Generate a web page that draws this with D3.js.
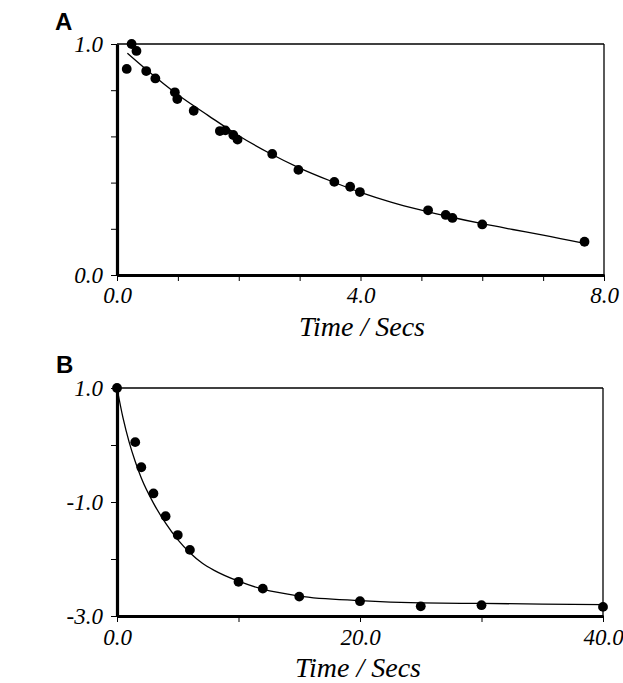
<!DOCTYPE html>
<html>
<head>
<meta charset="utf-8">
<script src="https://cdn.jsdelivr.net/npm/d3@7"></script>
<style>
  html, body { margin: 0; padding: 0; background: #fff; }
  svg { display: block; }
  .serif { font-family: "Liberation Serif", "Times New Roman", "DejaVu Serif", serif; font-style: italic; }
  .sans { font-family: "Liberation Sans", Arial, sans-serif; font-weight: bold; }
</style>
</head>
<body>
<svg id="chart" width="623" height="683"></svg>
<script>
// ---------- Panel A data ----------
const aPointsX = [0.16, 0.24, 0.32, 0.48, 0.63, 0.95, 0.99, 1.26, 1.69, 1.78, 1.91, 1.98, 2.55, 2.98, 3.57, 3.83, 3.99, 5.11, 5.40, 5.51, 6.00, 7.68];
const aPointsY = [0.892, 1.00, 0.97, 0.883, 0.851, 0.791, 0.762, 0.711, 0.623, 0.626, 0.606, 0.586, 0.524, 0.455, 0.403, 0.382, 0.359, 0.280, 0.260, 0.247, 0.219, 0.144];
const aCurveX = [0.17, 0.5, 1.0, 1.5, 2.0, 2.5, 3.0, 3.5, 4.0, 4.5, 5.0, 5.5, 6.0, 6.5, 7.0, 7.68];
const aCurveY = [0.96, 0.885, 0.78, 0.69, 0.603, 0.528, 0.463, 0.408, 0.358, 0.316, 0.281, 0.250, 0.222, 0.197, 0.173, 0.137];
const aXTicks = [0, 1, 2, 3, 4, 5, 6, 7, 8];
const aXLabelValues = [0, 4, 8];
const aXLabels = ["0.0", "4.0", "8.0"];
const aYTicks = [0, 0.2, 0.4, 0.6, 0.8, 1.0];
const aYLabelValues = [0, 1];
const aYLabels = ["0.0", "1.0"];

// ---------- Panel B data ----------
const bPointsX = [0, 1.5, 2, 3, 4, 5, 6, 10, 12, 15, 20, 25, 30, 40];
const bPointsY = [1.0, 0.05, -0.39, -0.85, -1.25, -1.58, -1.84, -2.40, -2.52, -2.66, -2.74, -2.83, -2.81, -2.84];
const bCurveX = [0, 0.5, 1, 1.5, 2, 3, 4, 5, 6, 7, 8, 10, 12, 15, 20, 25, 30, 40];
const bCurveY = [1.0, 0.47, 0.05, -0.29, -0.58, -1.02, -1.37, -1.66, -1.89, -2.07, -2.20, -2.39, -2.53, -2.65, -2.73, -2.77, -2.78, -2.80];
const bXTicks = [0, 10, 20, 30, 40];
const bXLabelValues = [0, 20, 40];
const bXLabels = ["0.0", "20.0", "40.0"];
const bYTicks = [-3, -2, -1, 0, 1];
const bYLabelValues = [-3, -1, 1];
const bYLabels = ["-3.0", "-1.0", "1.0"];

const axisTitle = "Time / Secs";

const svg = d3.select("#chart");

function panel(opt) {
  const x = d3.scaleLinear().domain(opt.xDomain).range([opt.left, opt.right]);
  const y = d3.scaleLinear().domain(opt.yDomain).range([opt.bottom, opt.top]);
  const g = svg.append("g");

  // frame: thin top/right
  g.append("line").attr("x1", opt.left).attr("x2", opt.right).attr("y1", opt.top).attr("y2", opt.top)
    .attr("stroke", "#000").attr("stroke-width", 1.3);
  g.append("line").attr("x1", opt.right).attr("x2", opt.right).attr("y1", opt.top).attr("y2", opt.bottom)
    .attr("stroke", "#000").attr("stroke-width", 1.3);

  const lab = (vals, labels) => v => {
    const i = vals.indexOf(v);
    return i >= 0 ? labels[i] : "";
  };
  const xAxis = d3.axisBottom(x).tickValues(opt.xTicks).tickSize(6).tickSizeOuter(0)
    .tickFormat(lab(opt.xLabelValues, opt.xLabels));
  const yAxis = d3.axisLeft(y).tickValues(opt.yTicks).tickSize(6).tickSizeOuter(0)
    .tickFormat(lab(opt.yLabelValues, opt.yLabels));

  const gx = g.append("g").attr("transform", `translate(0,${opt.bottom})`).call(xAxis);
  const gy = g.append("g").attr("transform", `translate(${opt.left},0)`).call(yAxis);
  [gx, gy].forEach(a => {
    a.attr("font-family", null).attr("font-size", null);
    a.select(".domain").attr("stroke-width", 3.2);
    a.selectAll(".tick line").attr("stroke-width", 1);
    a.selectAll("text").attr("class", "serif").style("font-size", "23px").attr("fill", "#000");
  });
  gx.selectAll("text").attr("dy", "1.0em").attr("y", opt.xLabelY);
  gy.selectAll("text").attr("x", -14).attr("dy", "0.34em");

  // fitted curve
  const line = d3.line().x(d => x(d[0])).y(d => y(d[1])).curve(d3.curveMonotoneX);
  g.append("path").datum(d3.zip(opt.curveX, opt.curveY))
    .attr("d", line).attr("fill", "none").attr("stroke", "#000").attr("stroke-width", 1.3);

  // points
  g.selectAll("circle.pt").data(d3.zip(opt.px, opt.py)).join("circle")
    .attr("class", "pt").attr("cx", d => x(d[0])).attr("cy", d => y(d[1])).attr("r", 4.9).attr("fill", "#000");

  // axis title
  g.append("text").attr("class", "serif").attr("x", opt.titleX).attr("y", opt.titleY).attr("text-anchor", "middle")
    .style("font-size", "28px").text(axisTitle);

  // panel letter
  g.append("text").attr("class", "sans").attr("x", opt.letterX).attr("y", opt.letterY)
    .style("font-size", "24px").text(opt.letter);
}

panel({
  xDomain: [0, 8], yDomain: [0, 1], left: 117, right: 604, top: 44, bottom: 275,
  xTicks: aXTicks, xLabelValues: aXLabelValues, xLabels: aXLabels,
  yTicks: aYTicks, yLabelValues: aYLabelValues, yLabels: aYLabels,
  px: aPointsX, py: aPointsY, curveX: aCurveX, curveY: aCurveY, xLabelY: 5,
  titleX: 362, titleY: 336, letter: "A", letterX: 55, letterY: 30
});
panel({
  xDomain: [0, 40], yDomain: [-3, 1], left: 117, right: 603, top: 388, bottom: 616,
  xTicks: bXTicks, xLabelValues: bXLabelValues, xLabels: bXLabels,
  yTicks: bYTicks, yLabelValues: bYLabelValues, yLabels: bYLabels,
  px: bPointsX, py: bPointsY, curveX: bCurveX, curveY: bCurveY, xLabelY: 6,
  titleX: 358, titleY: 677, letter: "B", letterX: 56, letterY: 373
});
</script>
</body>
</html>
